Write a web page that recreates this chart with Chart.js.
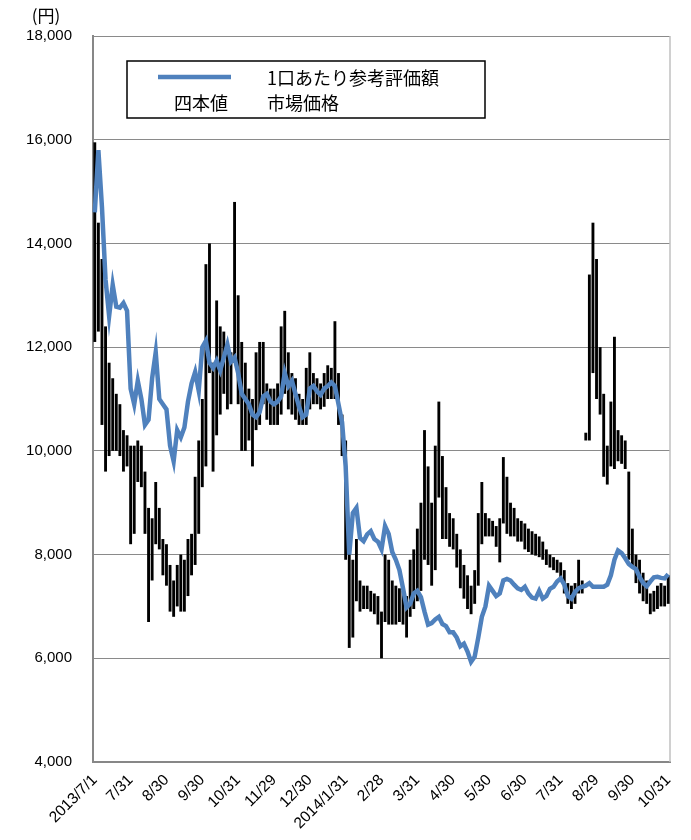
<!DOCTYPE html>
<html>
<head>
<meta charset="utf-8">
<script src="https://cdn.jsdelivr.net/npm/chart.js@4.4.1/dist/chart.umd.min.js"></script>
<style>
html,body{margin:0;padding:0;background:#fff;}
#wrap{width:691px;height:840px;position:relative;}
</style>
</head>
<body>
<div id="wrap"><canvas id="c"></canvas></div>
<script>
// ---- data ----
const tickLabels = ['2013/7/1','7/31','8/30','9/30','10/31','11/29','12/30','2014/1/31','2/28','3/31','4/30','5/30','6/30','7/31','8/29','9/30','10/31'];
const pointsPerMonth = 10;

// 1口あたり参考評価額 (blue line)
const navValues = [
14600,15800,14700,13300,12600,13200,12780,12760,12850,12700,
11200,10900,11350,11000,10500,10600,11400,11900,11000,10900,
10800,10100,9800,10400,10260,10450,10950,11300,11520,11160,
12000,12120,11700,11600,11740,11550,11800,12050,11720,11800,
11500,11100,11000,10900,10700,10650,10750,11050,11100,10950,
10900,10950,11050,11500,11250,11350,11100,10850,10650,10700,
11200,11250,11150,11080,11200,11250,11320,11250,10900,10550,
9700,8000,8800,8900,8320,8260,8390,8450,8300,8250,
8100,8550,8400,8050,7900,7700,7350,6980,7050,7250,
7300,7180,6900,6650,6680,6750,6800,6660,6620,6500,
6500,6400,6230,6280,6130,5930,6030,6400,6800,7000,
7400,7300,7200,7250,7500,7530,7500,7420,7350,7320,
7380,7250,7170,7150,7300,7150,7200,7340,7380,7480,
7540,7420,7200,7150,7280,7350,7380,7400,7450,7380,
7380,7380,7380,7420,7600,7900,8080,8030,7930,7820,
7760,7720,7570,7450,7390,7480,7560,7570,7550,7540,
7620
];

// 四本値 市場価格 (low / high of each bar)
const priceLow = [
12100,12300,10500,9600,9900,10000,10000,9900,9600,9700,
8200,8400,9400,9300,8400,6700,7500,8200,8100,7600,
7400,6900,6800,7000,6900,6900,7200,7600,7800,8400,
9300,9700,11500,9600,10300,10700,11100,10800,10900,11700,
10900,10000,10000,10200,9700,10400,10500,10900,10600,10500,
10500,10500,10700,11100,10800,10700,10600,10500,10500,10500,
10800,10900,10900,10800,10850,11000,11000,11000,10500,9900,
7900,6200,6400,7100,6900,6950,6950,6900,6850,6650,
6000,6700,6650,6650,6650,6700,6650,6400,6800,6950,
7100,7300,7900,7800,7400,7700,9100,8300,8300,8150,
8100,7750,7350,7150,6950,6850,7050,7400,8200,8350,
8350,8350,8150,7850,8600,8400,8350,8350,8250,8250,
8100,8050,8000,7980,7950,7900,7800,7750,7700,7650,
7550,7250,7050,6950,7050,7250,7250,10200,10200,11500,
11000,10700,9500,9350,9700,9650,9800,9750,9650,7900,
7750,7450,7250,7100,7050,6850,6900,6950,7000,7000,
7050
];
const priceHigh = [
15950,14400,13700,12400,11700,11400,11100,10900,10400,10300,
10100,10100,10200,10100,9600,8900,8700,9400,8900,8300,
8200,7800,7500,7800,8000,7900,8300,8400,9500,10200,
11000,13600,14000,11700,12900,12400,12300,12100,11900,14800,
13000,12100,11700,11200,11000,11900,12100,12100,11300,11200,
11200,11300,12400,12700,11900,11500,11400,11100,11000,11600,
11900,11500,11400,11300,11500,11650,11600,12500,11500,10700,
10200,8300,7900,8300,7500,7400,7400,7300,7250,7200,
6900,8000,7900,7500,7400,7350,7300,7200,7900,8100,
8500,9000,10400,9700,9000,10100,10950,9900,9300,8800,
8700,8400,8100,7800,7600,7400,7700,8800,9400,8800,
8700,8650,8550,8700,9880,9500,9000,8900,8700,8650,
8600,8500,8450,8400,8350,8250,8100,8000,7950,7900,
7850,7700,7450,7400,7450,7900,7500,10350,13400,14400,
13700,12000,11100,10100,10950,12200,10400,10300,10200,9600,
8500,8000,7900,7650,7500,7250,7300,7400,7450,7400,
7600
];

const categories = navValues.map((_, i) => (i % pointsPerMonth === 0 ? tickLabels[i / pointsPerMonth] : ''));
const yMin = 4000, yMax = 18000, yStep = 2000;
const seriesNames = ['1口あたり参考評価額', '市場価格'];
const barLegendMark = '四本値';
const unitLabel = '(円)';

// ---- plugins ----
const framePlugin = {
  id: 'frame',
  beforeDatasetsDraw(chart) {
    const {ctx, chartArea: a} = chart;
    ctx.save();
    ctx.strokeStyle = '#c0c0c0';
    ctx.lineWidth = 1.5;
    ctx.beginPath();
    ctx.moveTo(a.right, a.top);
    ctx.lineTo(a.right, a.bottom);
    ctx.stroke();
    ctx.restore();
  }
};

const textPlugin = {
  id: 'texts',
  afterDraw(chart) {
    const {ctx, chartArea: a} = chart;
    ctx.save();
    ctx.fillStyle = '#000';
    ctx.font = '17px "Noto Sans CJK JP", "Liberation Sans", sans-serif';
    ctx.textAlign = 'center';
    ctx.textBaseline = 'middle';
    ctx.fillText(unitLabel, a.left - 47, a.top - 20);

    const bx = a.left + 34, by = a.top + 25, bw = 358, bh = 57;
    ctx.fillStyle = '#fff';
    ctx.fillRect(bx, by, bw, bh);
    ctx.strokeStyle = '#000';
    ctx.lineWidth = 1.5;
    ctx.strokeRect(bx, by, bw, bh);
    ctx.strokeStyle = '#4F81BD';
    ctx.lineWidth = 4.5;
    ctx.beginPath();
    ctx.moveTo(bx + 31, by + 16);
    ctx.lineTo(bx + 104, by + 16);
    ctx.stroke();
    ctx.fillStyle = '#000';
    ctx.font = '18px "Noto Sans CJK JP", sans-serif';
    ctx.textBaseline = 'middle';
    ctx.textAlign = 'left';
    ctx.fillText(seriesNames[0], bx + 140, by + 17);
    ctx.fillText(seriesNames[1], bx + 140, by + 42);
    ctx.textAlign = 'center';
    ctx.fillText(barLegendMark, bx + 74, by + 42);
    ctx.restore();
  }
};

new Chart(document.getElementById('c'), {
  type: 'bar',
  data: {
    labels: categories,
    datasets: [
      {
        type: 'line',
        label: seriesNames[0],
        data: navValues,
        borderColor: '#4F81BD',
        backgroundColor: '#4F81BD',
        borderWidth: 4.5,
        pointRadius: 0,
        tension: 0,
        order: 0
      },
      {
        type: 'bar',
        label: seriesNames[1],
        data: priceLow.map((l, i) => [l, priceHigh[i]]),
        backgroundColor: '#000',
        borderWidth: 0,
        barPercentage: 0.8,
        categoryPercentage: 1.0,
        order: 1
      }
    ]
  },
  options: {
    responsive: true,
    maintainAspectRatio: false,
    animation: false,
    layout: {padding: {top: 36, right: 21, left: 0, bottom: 0}},
    plugins: {legend: {display: false}, tooltip: {enabled: false}},
    scales: {
      x: {
        offset: true,
        grid: {display: false, drawTicks: false},
        border: {display: true, color: '#878787', width: 2},
        ticks: {
          autoSkip: false,
          maxRotation: 45,
          minRotation: 45,
          padding: 9,
          color: '#000',
          font: {family: '"Liberation Sans", Arial, sans-serif', size: 15.5},
          callback: (v, i) => categories[i]
        },
        afterFit: (s) => { s.height = 78; }
      },
      y: {
        min: yMin,
        max: yMax,
        grid: {color: '#8a8a8a', lineWidth: 1, drawTicks: false},
        border: {display: true, color: '#878787', width: 2},
        ticks: {
          stepSize: yStep,
          padding: 21,
          color: '#000',
          font: {family: '"Liberation Sans", Arial, sans-serif', size: 15},
          callback: (v) => v.toLocaleString('en-US')
        },
        afterFit: (s) => { s.width = 93; }
      }
    }
  },
  plugins: [framePlugin, textPlugin]
});
</script>
</body>
</html>
